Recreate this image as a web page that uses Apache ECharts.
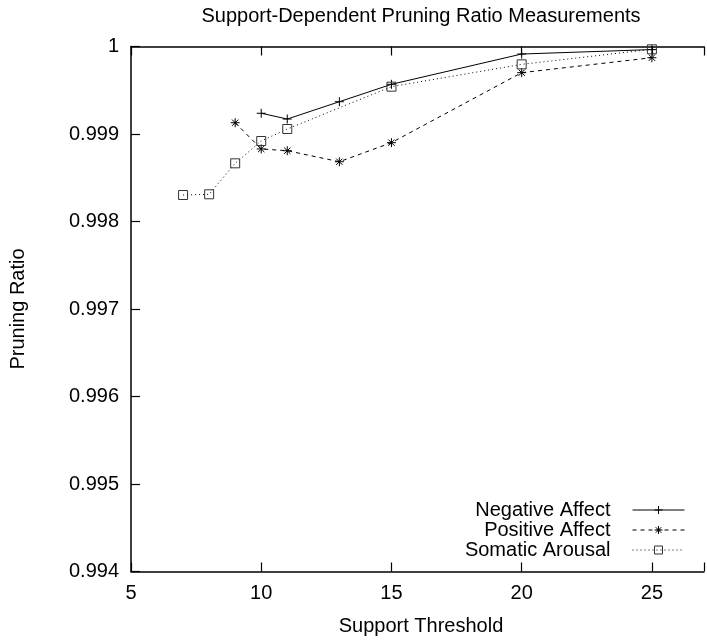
<!DOCTYPE html>
<html>
<head>
<meta charset="utf-8">
<script src="https://cdn.jsdelivr.net/npm/echarts@6/dist/echarts.min.js"></script>
<style>
  html, body { margin: 0; padding: 0; background: #fff; }
  #chart { width: 707px; height: 642px; }
</style>
</head>
<body>
<div id="chart"></div>
<script>
// Support thresholds (x) and pruning ratios (y) per affect dimension
const negativeX = [10, 11, 13, 15, 20, 25];
const negativeY = [0.999237, 0.999171, 0.999369, 0.999568, 0.999914, 0.999965];

const positiveX = [9, 10, 11, 13, 15, 20, 25];
const positiveY = [0.999129, 0.998829, 0.998809, 0.998683, 0.998901, 0.999701, 0.999872];

const somaticX = [7, 8, 9, 10, 11, 15, 20, 25];
const somaticY = [0.998303, 0.998311, 0.998665, 0.998920, 0.999057, 0.999541, 0.999796, 0.999968];

const seriesNames = ['Negative Affect', 'Positive Affect', 'Somatic Arousal'];
const titleText = 'Support-Dependent Pruning Ratio Measurements';
const xAxisTitle = 'Support Threshold';
const yAxisTitle = 'Pruning Ratio';

const FONT = '"Liberation Sans", Arial, Helvetica, sans-serif';
const FS = 20;

const pairs = (xs, ys) => xs.map((x, i) => [x, ys[i]]);

const plusSym = 'path://M0,5L10,5M5,0L5,10';
const starSym = 'path://M0,5L10,5M5,0L5,10M1.5,1.5L8.5,8.5M8.5,1.5L1.5,8.5';
const boxSym = 'path://M0,0L10,0L10,10L0,10Z';

const chart = echarts.init(document.getElementById('chart'), null, { renderer: 'canvas' });

const xBase = {
  type: 'value', min: 5, max: 27, interval: 5,
  splitLine: { show: false },
  axisLine: { show: true, onZero: false, lineStyle: { color: '#000', width: 1.5 } },
  axisTick: { show: true, inside: true, length: 9, lineStyle: { color: '#000', width: 1.2 } }
};

chart.setOption({
  animation: false,
  backgroundColor: '#fff',
  textStyle: { fontFamily: FONT },
  grid: { left: 130.6, top: 46.5, bottom: 70.5, right: -3.3, containLabel: false },
  graphic: [
    { type: 'text', x: 421, y: 16,
      style: { text: titleText, font: FS + 'px ' + FONT, fill: '#000', align: 'center', verticalAlign: 'middle' } },
    { type: 'text', x: 421, y: 626,
      style: { text: xAxisTitle, font: FS + 'px ' + FONT, fill: '#000', align: 'center', verticalAlign: 'middle' } }
  ],
  xAxis: [
    Object.assign({}, xBase, {
      position: 'bottom',
      axisLabel: { show: true, margin: 12, color: '#000', fontSize: FS, fontFamily: FONT,
        formatter: v => (v <= 25 ? String(v) : '') }
    }),
    Object.assign({}, xBase, {
      position: 'top',
      axisLabel: { show: false }
    })
  ],
  yAxis: {
    type: 'value', min: 0.994, max: 1, interval: 0.001,
    name: yAxisTitle, nameLocation: 'middle', nameGap: 103, nameRotate: 90,
    nameTextStyle: { color: '#000', fontSize: FS, fontFamily: FONT },
    splitLine: { show: false },
    axisLine: { show: true, lineStyle: { color: '#000', width: 1.5 } },
    axisTick: { show: true, inside: true, length: 9, lineStyle: { color: '#000', width: 1.2 } },
    axisLabel: { margin: 12, color: '#000', fontSize: FS, fontFamily: FONT,
      formatter: v => (Math.abs(v - 1) < 1e-9 ? '1' : v.toFixed(3)) }
  },
  legend: {
    orient: 'vertical', right: 22, top: 500, align: 'right', padding: 0,
    itemWidth: 52, itemHeight: 10, itemGap: 0,
    lineStyle: { width: 1 },
    itemStyle: { borderWidth: 1 },
    textStyle: { color: '#000', fontSize: FS, fontFamily: FONT, padding: [0, 17, 0, 0] },
    data: seriesNames
  },
  series: [
    { name: seriesNames[0], type: 'line', data: pairs(negativeX, negativeY),
      symbol: plusSym, symbolSize: 9,
      lineStyle: { color: '#000', width: 1, type: 'solid' },
      itemStyle: { color: 'rgba(0,0,0,0)', borderColor: '#000', borderWidth: 1 } },
    { name: seriesNames[1], type: 'line', data: pairs(positiveX, positiveY),
      symbol: starSym, symbolSize: 9,
      lineStyle: { color: '#000', width: 1, type: [4, 4] },
      itemStyle: { color: 'rgba(0,0,0,0)', borderColor: '#000', borderWidth: 1 } },
    { name: seriesNames[2], type: 'line', data: pairs(somaticX, somaticY),
      symbol: boxSym, symbolSize: 9,
      lineStyle: { color: '#000', width: 1, type: [1, 3] },
      itemStyle: { color: 'rgba(0,0,0,0)', borderColor: '#333', borderWidth: 1 } }
  ]
});
</script>
</body>
</html>
